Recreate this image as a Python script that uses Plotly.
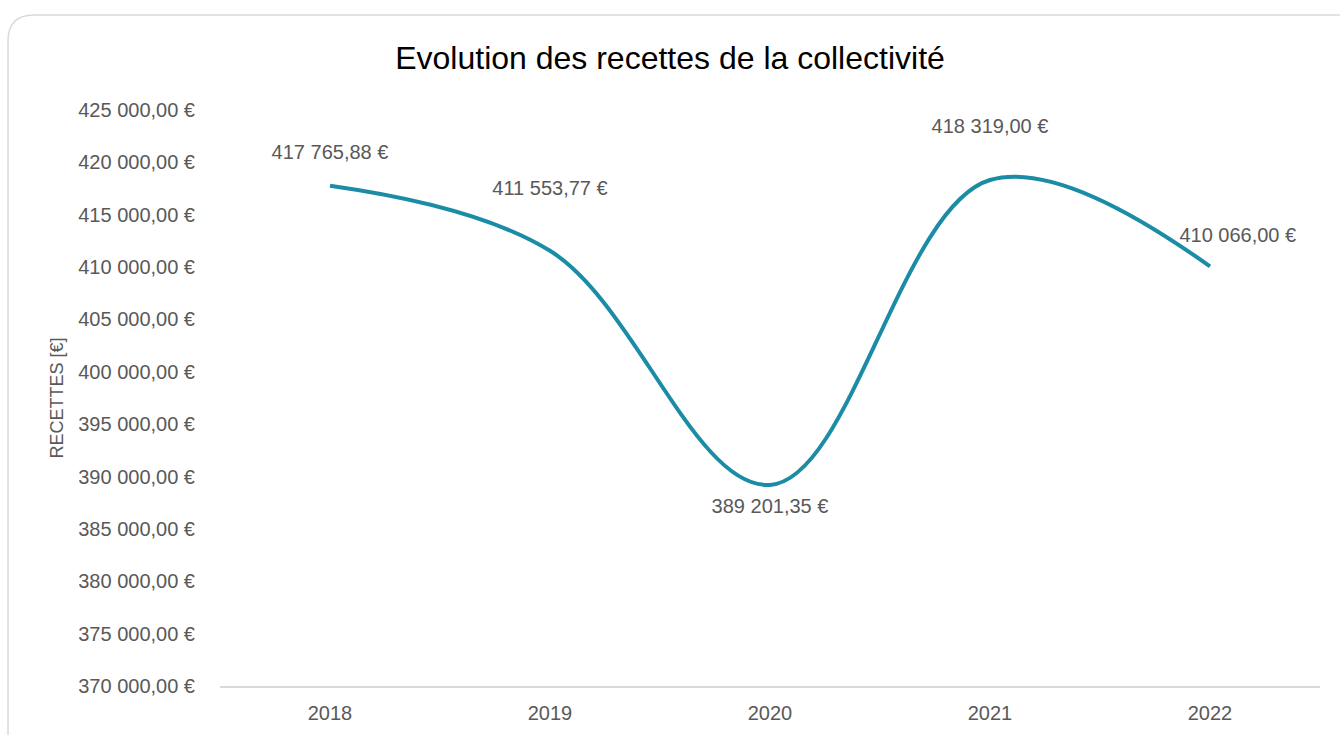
import plotly.graph_objects as go

# data
years = ["2018", "2019", "2020", "2021", "2022"]
recettes = [417765.88, 411553.77, 389201.35, 418319.00, 410066.00]
y_ticks = [370000 + 5000 * i for i in range(12)]

# where each data label sits: side of the point, gap (invisible marker size),
# and a little left padding to nudge the last label to the right like in Excel
label_pos = ["top center", "top center", "bottom center", "top center", "top center"]
label_gap = [34, 80, 20, 66, 30]
label_pad = [0, 0, 0, 0, 10]

FONT = "Liberation Sans, Arial, sans-serif"
LINE = "#1B8CA6"
GREY = "#595959"

W, H = 1340, 735
L, R, T, B = 220, 20, 110, 49


def fr_money(v):
    s = f"{v:,.2f}".replace(",", " ").replace(".", ",")
    return s + " €"


def px_to_paper(x, y):
    return (x - L) / (W - L - R), (H - B - y) / (H - T - B)


fig = go.Figure()
fig.add_trace(go.Scatter(
    x=years, y=recettes, mode="lines",
    line=dict(color=LINE, width=4, shape="spline", smoothing=1.05),
    hoverinfo="skip", showlegend=False,
))
# data labels
fig.add_trace(go.Scatter(
    x=years, y=recettes, mode="markers+text",
    text=["\u00a0" * n + fr_money(v) for v, n in zip(recettes, label_pad)],
    textposition=label_pos,
    textfont=dict(family=FONT, size=20, color=GREY),
    marker=dict(size=label_gap, color="rgba(0,0,0,0)",
                line=dict(width=0, color="rgba(0,0,0,0)")),
    hoverinfo="skip", showlegend=False, cliponaxis=False,
))

# rounded chart frame (goes off the right/bottom edge, as in the source)
r = 26
pts = [(8, H + 10), (8, 15 + r), (8, 15), (8 + r, 15), (W + 10, 15)]
p = [px_to_paper(*q) for q in pts]
path = (f"M {p[0][0]:.4f},{p[0][1]:.4f} L {p[1][0]:.4f},{p[1][1]:.4f} "
        f"Q {p[2][0]:.4f},{p[2][1]:.4f} {p[3][0]:.4f},{p[3][1]:.4f} "
        f"L {p[4][0]:.4f},{p[4][1]:.4f}")

fig.update_layout(
    width=W, height=H,
    margin=dict(l=L, r=R, t=T, b=B, autoexpand=False),
    paper_bgcolor="white", plot_bgcolor="white",
    font=dict(family=FONT, color=GREY),
    title=dict(text="Evolution des recettes de la collectivité",
               x=0.5, xref="container", xanchor="center",
               y=1 - 58 / H, yref="container", yanchor="middle",
               font=dict(family=FONT, size=32, color="#000000")),
    shapes=[dict(type="path", path=path, xref="paper", yref="paper",
                 line=dict(color="#D9D9D9", width=1.5), layer="below")],
)

fig.update_xaxes(
    type="category", range=[-0.5, 4.5], automargin=False,
    showline=True, linecolor="#D9D9D9", linewidth=1.5,
    showgrid=False, zeroline=False,
    ticks="outside", ticklen=8, tickcolor="rgba(0,0,0,0)",
    tickfont=dict(family=FONT, size=20, color=GREY),
)
fig.update_yaxes(
    range=[370000, 425000], automargin=False,
    tickmode="array", tickvals=y_ticks, ticktext=[fr_money(t) for t in y_ticks],
    showline=False, showgrid=False, zeroline=False,
    ticks="outside", ticklen=20, tickcolor="rgba(0,0,0,0)",
    tickfont=dict(family=FONT, size=20, color=GREY),
    title=dict(text="RECETTES [€]", standoff=9,
               font=dict(family=FONT, size=18, color=GREY)),
)

fig.write_html("out.html", config={"displayModeBar": False},
               post_script="document.body.style.margin = '0';")
